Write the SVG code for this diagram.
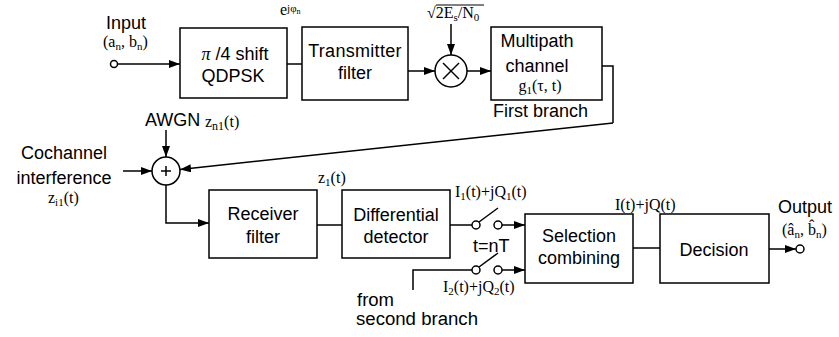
<svg xmlns="http://www.w3.org/2000/svg" width="839" height="337" viewBox="0 0 839 337">
<style>
.box{fill:#fff;stroke:#000;stroke-width:1.5}
.ln{fill:none;stroke:#000;stroke-width:1.5}
.arr{fill:none;stroke:#000;stroke-width:1.5;marker-end:url(#ah)}
.dot{fill:#fff;stroke:#000;stroke-width:1.5}
.s{font-family:"Liberation Sans",Arial,sans-serif;font-size:18px;fill:#000}
.m{font-family:"Liberation Serif","Times New Roman",serif;font-size:16px;fill:#000}
.c{text-anchor:middle}
</style>
<defs>
<marker id="ah" markerWidth="11" markerHeight="8" refX="11" refY="4" orient="auto" markerUnits="userSpaceOnUse">
<path d="M0,0 L11,4 L0,8 Z" fill="#000"/>
</marker>
</defs>

<g id="connectors">
<line class="arr" x1="118" y1="64" x2="180" y2="64"/>
<line class="ln" x1="287" y1="64" x2="302" y2="64"/>
<line class="arr" x1="408" y1="71" x2="435" y2="71"/>
<line class="arr" x1="451" y1="24" x2="451" y2="55"/>
<line class="arr" x1="467" y1="71" x2="491" y2="71"/>
<polyline class="ln" points="602,66 613,66 613,123"/>
<line class="arr" x1="613" y1="123" x2="180" y2="169.5"/>
<line class="arr" x1="166" y1="130" x2="166" y2="157"/>
<line class="arr" x1="123" y1="171" x2="152" y2="171"/>
<polyline class="arr" points="166,185 166,223 209,223"/>
<line class="ln" x1="317" y1="225" x2="342" y2="225"/>
<line class="ln" x1="450" y1="225" x2="472" y2="225"/>
<line class="ln" x1="479" y1="222" x2="498" y2="208"/>
<line class="arr" x1="502" y1="225" x2="525" y2="225"/>
<polyline class="ln" points="413,290 413,270 472,270"/>
<line class="ln" x1="479" y1="267" x2="498" y2="253"/>
<line class="arr" x1="502" y1="270" x2="525" y2="270"/>
<line class="ln" x1="633" y1="248" x2="660" y2="248"/>
<line class="arr" x1="769" y1="249" x2="796" y2="249"/>
<circle class="dot" cx="114" cy="64" r="3.5"/>
<circle class="dot" cx="476" cy="225" r="4"/>
<circle class="dot" cx="498" cy="225" r="4"/>
<circle class="dot" cx="476" cy="270" r="4"/>
<circle class="dot" cx="498" cy="270" r="4"/>
<circle class="dot" cx="800" cy="249" r="4"/>
</g>

<g id="input-label">
<text class="s" x="106" y="29" font-size="17">Input</text>
<text class="m" x="103" y="47" font-size="15">(a<tspan font-size="11" dy="3">n</tspan><tspan dy="-3">, b</tspan><tspan font-size="11" dy="3">n</tspan><tspan dy="-3">)</tspan></text>
</g>

<g id="qdpsk">
<rect class="box" x="180" y="28" width="107" height="70"/>
<text class="s c" x="235" y="60"><tspan font-family="Liberation Serif,serif" font-style="italic">π</tspan> /4 shift</text>
<text class="s c" x="233" y="82">QDPSK</text>
</g>

<g id="ejphi">
<text class="m" x="280" y="15" font-size="14">e<tspan font-size="11" dy="-3">jφ</tspan><tspan font-size="8" dy="2">n</tspan></text>
</g>

<g id="tx-filter">
<rect class="box" x="302" y="27" width="106" height="73"/>
<text class="s c" x="355" y="57" letter-spacing="0.3">Transmitter</text>
<text class="s c" x="355" y="79">filter</text>
</g>

<g id="multiplier">
<circle class="box" cx="451" cy="71" r="16"/>
<line class="ln" x1="443" y1="63" x2="459" y2="79"/>
<line class="ln" x1="459" y1="63" x2="443" y2="79"/>
<text class="m" x="427" y="18">√2E<tspan font-size="11" dy="3">s</tspan><tspan dy="-3">/N</tspan><tspan font-size="11" dy="3">0</tspan></text>
<line x1="436" y1="5" x2="484" y2="5" stroke="#000" stroke-width="1"/>
</g>

<g id="multipath">
<rect class="box" x="491" y="27" width="111" height="73"/>
<text class="s c" x="537" y="47">Multipath</text>
<text class="s c" x="537" y="72">channel</text>
<text class="m c" x="540" y="91">g<tspan font-size="11" dy="3">1</tspan><tspan dy="-3">(τ, t)</tspan></text>
<text class="s" x="493" y="117">First branch</text>
</g>

<g id="adder">
<circle class="box" cx="166" cy="171" r="14"/>
<line class="ln" x1="161" y1="171" x2="171" y2="171"/>
<line class="ln" x1="166" y1="166" x2="166" y2="176"/>
<text class="s" x="145" y="126">AWGN</text>
<text class="m" x="205" y="127" font-size="17">z<tspan font-size="12" dy="3">n1</tspan><tspan dy="-3">(t)</tspan></text>
<text class="s c" x="64" y="159">Cochannel</text>
<text class="s c" x="64" y="184">interference</text>
<text class="m" x="48" y="203">z<tspan font-size="11" dy="3">i1</tspan><tspan dy="-3">(t)</tspan></text>
</g>

<g id="rx-filter">
<rect class="box" x="209" y="190" width="108" height="68"/>
<text class="s c" x="263" y="220">Receiver</text>
<text class="s c" x="263" y="243">filter</text>
</g>

<g id="diff-detector">
<rect class="box" x="342" y="190" width="108" height="68"/>
<text class="s c" x="396" y="221">Differential</text>
<text class="s c" x="396" y="243">detector</text>
<text class="m" x="318" y="183">z<tspan font-size="11" dy="3">1</tspan><tspan dy="-3">(t)</tspan></text>
</g>

<g id="switches">
<text class="m" x="455" y="197">I<tspan font-size="11" dy="3">1</tspan><tspan dy="-3">(t)+jQ</tspan><tspan font-size="11" dy="3">1</tspan><tspan dy="-3">(t)</tspan></text>
<text class="s" x="473" y="252">t=nT</text>
<text class="m" x="443" y="292">I<tspan font-size="11" dy="3">2</tspan><tspan dy="-3">(t)+jQ</tspan><tspan font-size="11" dy="3">2</tspan><tspan dy="-3">(t)</tspan></text>
<text class="s" x="357" y="306" font-size="15.5" textLength="37" lengthAdjust="spacingAndGlyphs">from</text>
<text class="s" x="356" y="325" font-size="15.5" textLength="122" lengthAdjust="spacingAndGlyphs">second branch</text>
</g>

<g id="selection">
<rect class="box" x="525" y="214" width="108" height="69"/>
<text class="s c" x="579" y="242">Selection</text>
<text class="s c" x="579" y="264">combining</text>
<text class="m" x="615" y="210">I(t)+jQ(t)</text>
</g>

<g id="decision">
<rect class="box" x="660" y="214" width="109" height="69"/>
<text class="s c" x="714" y="256">Decision</text>
</g>

<g id="output">
<text class="s" x="778" y="213">Output</text>
<text class="m" x="782" y="235">(â<tspan font-size="11" dy="3">n</tspan><tspan dy="-3">, b̂</tspan><tspan font-size="11" dy="3">n</tspan><tspan dy="-3">)</tspan></text>
</g>
</svg>
